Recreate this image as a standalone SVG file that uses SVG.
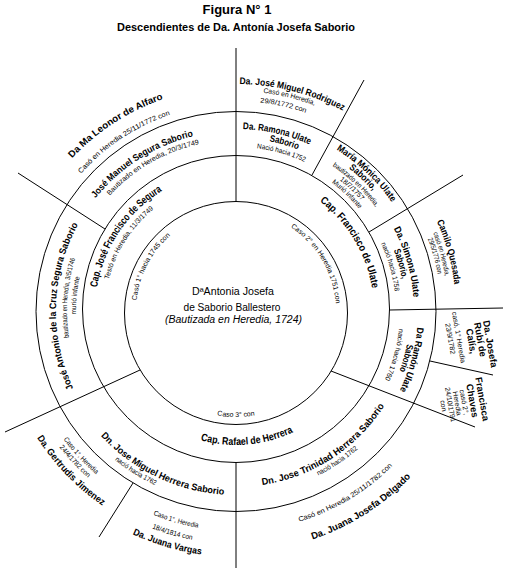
<svg xmlns="http://www.w3.org/2000/svg" width="509" height="573" viewBox="0 0 509 573">
<style>
text{font-family:"Liberation Sans",Arial,sans-serif;fill:#000;text-anchor:middle}
.b{font-weight:bold;font-size:9.5px}
.cap{font-weight:bold;font-size:10.5px}
.s{font-size:7px}
.c{font-size:10px}
.ring{fill:none;stroke:#000;stroke-width:1}
#connectors line{stroke:#000;stroke-width:1}
</style>
<defs>
<path id="w100" d="M136.38,302.28 A100,100 0 0 1 335.62,302.28"/>
<path id="w131" d="M105.50,299.58 A131,131 0 0 1 366.50,299.58"/>
<path id="w138" d="M98.53,298.97 A138,138 0 0 1 373.47,298.97"/>
<path id="w141" d="M95.54,298.71 A141,141 0 0 1 376.46,298.71"/>
<path id="w160" d="M76.61,297.06 A160,160 0 0 1 395.39,297.06"/>
<path id="w164" d="M72.62,296.71 A164,164 0 0 1 399.38,296.71"/>
<path id="w167" d="M69.64,296.44 A167,167 0 0 1 402.36,296.44"/>
<path id="w169" d="M67.64,296.27 A169,169 0 0 1 404.36,296.27"/>
<path id="w171" d="M65.65,296.10 A171,171 0 0 1 406.35,296.10"/>
<path id="w173" d="M63.66,295.92 A173,173 0 0 1 408.34,295.92"/>
<path id="w174" d="M62.66,295.83 A174,174 0 0 1 409.34,295.83"/>
<path id="w178" d="M58.68,295.49 A178,178 0 0 1 413.32,295.49"/>
<path id="w180" d="M56.68,295.31 A180,180 0 0 1 415.32,295.31"/>
<path id="w182" d="M54.69,295.14 A182,182 0 0 1 417.31,295.14"/>
<path id="w190" d="M46.72,294.44 A190,190 0 0 1 425.28,294.44"/>
<path id="w205" d="M31.78,293.13 A205,205 0 0 1 440.22,293.13"/>
<path id="w207" d="M29.79,292.96 A207,207 0 0 1 442.21,292.96"/>
<path id="w210" d="M26.80,292.70 A210,210 0 0 1 445.20,292.70"/>
<path id="w212" d="M24.81,292.52 A212,212 0 0 1 447.19,292.52"/>
<path id="w220" d="M16.84,291.83 A220,220 0 0 1 455.16,291.83"/>
<path id="w224" d="M12.85,291.48 A224,224 0 0 1 459.15,291.48"/>
<path id="w227" d="M9.86,291.22 A227,227 0 0 1 462.14,291.22"/>
<path id="u106" d="M130.40,320.24 A106,106 0 0 0 341.60,320.24"/>
<path id="u134" d="M102.51,322.68 A134,134 0 0 0 369.49,322.68"/>
<path id="u176" d="M60.67,326.34 A176,176 0 0 0 411.33,326.34"/>
<path id="u184" d="M52.70,327.04 A184,184 0 0 0 419.30,327.04"/>
<path id="u192" d="M44.73,327.73 A192,192 0 0 0 427.27,327.73"/>
<path id="u215" d="M21.82,329.74 A215,215 0 0 0 450.18,329.74"/>
<path id="u220" d="M16.84,330.17 A220,220 0 0 0 455.16,330.17"/>
<path id="u223" d="M13.85,330.44 A223,223 0 0 0 458.15,330.44"/>
<path id="u233" d="M3.89,331.31 A233,233 0 0 0 468.11,331.31"/>
<path id="u236" d="M0.90,331.57 A236,236 0 0 0 471.10,331.57"/>
<path id="u241" d="M-4.08,332.00 A241,241 0 0 0 476.08,332.00"/>
<path id="u246" d="M-9.06,332.44 A246,246 0 0 0 481.06,332.44"/>
</defs>
<rect width="509" height="573" fill="#fff"/>

<g id="title">
<text x="237" y="13.5" font-weight="bold" font-size="13">Figura N° 1</text>
<text x="236" y="30.5" font-weight="bold" font-size="10" textLength="238" lengthAdjust="spacingAndGlyphs">Descendientes de Da. Antonía Josefa Saborio</text>
</g>

<g id="rings">
<circle class="ring" cx="236" cy="311.5" r="200"/>
<circle class="ring" cx="236" cy="309" r="153.5"/>
<circle class="ring" cx="236" cy="313" r="111.5"/>
</g>

<g id="connectors">
<line x1="236" y1="48" x2="236" y2="201.5"/>
<line x1="18" y1="173" x2="105" y2="229"/>
<line x1="364" y1="80" x2="312" y2="175"/>
<line x1="463" y1="175" x2="369" y2="232"/>
<line x1="389.5" y1="310" x2="503" y2="308"/>
<line x1="430" y1="361" x2="493" y2="375"/>
<line x1="331" y1="371" x2="475" y2="427"/>
<line x1="140" y1="370" x2="5" y2="432"/>
<line x1="133" y1="483" x2="99" y2="537"/>
<line x1="236" y1="462.5" x2="236" y2="568"/>
</g>

<g id="n-antonia">
<text class="c" x="233" y="294.5" textLength="82" lengthAdjust="spacingAndGlyphs">DªAntonia Josefa</text>
<text class="c" x="232" y="311" textLength="97" lengthAdjust="spacingAndGlyphs">de Saborio Ballestero</text>
<text class="c" x="233.5" y="322.5" font-style="italic" textLength="137" lengthAdjust="spacingAndGlyphs">(Bautizada en Heredia, 1724)</text>
</g>

<g id="n-segura">
<text class="s" transform="rotate(-62.5 236 311)"><textPath href="#w100" startOffset="50%" textLength="75" lengthAdjust="spacingAndGlyphs">Casó 1° hacia 1745 con</textPath></text>
<text class="cap" transform="rotate(-56 236 311)"><textPath href="#w141" startOffset="50%" textLength="120" lengthAdjust="spacingAndGlyphs">Cap. José Francisco de Segura</textPath></text>
<text class="s" transform="rotate(-57.5 236 311)"><textPath href="#w131" startOffset="50%" textLength="85" lengthAdjust="spacingAndGlyphs">Testó en Heredia, 11/3/1749</textPath></text>
</g>

<g id="n-ulate">
<text class="s" transform="rotate(59.5 236 311)"><textPath href="#w100" startOffset="50%" textLength="92" lengthAdjust="spacingAndGlyphs">Caso 2° en Heredia 1751 con</textPath></text>
<text class="cap" transform="rotate(59 236 311)"><textPath href="#w138" startOffset="50%" textLength="104" lengthAdjust="spacingAndGlyphs">Cap. Francisco de Ulate</textPath></text>
</g>

<g id="n-herrera">
<text class="s" transform="rotate(0 236 311)"><textPath href="#u106" startOffset="50%" textLength="38" lengthAdjust="spacingAndGlyphs">Caso 3° con</textPath></text>
<text class="cap" transform="rotate(-5 236 311)"><textPath href="#u134" startOffset="50%" textLength="95" lengthAdjust="spacingAndGlyphs">Cap.  Rafael de Herrera</textPath></text>
</g>

<g id="n-jose-antonio">
<text class="b" transform="rotate(-88.35 236 311)"><textPath href="#w180" startOffset="50%" textLength="170" lengthAdjust="spacingAndGlyphs">José Antonio de la Cruz Segura Saborio</textPath></text>
<text class="s" transform="rotate(-85.5 236 311)"><textPath href="#w169" startOffset="50%" textLength="80" lengthAdjust="spacingAndGlyphs">bautizado en Heredia, 3/5/1746</textPath></text>
<text class="s" transform="rotate(-84.5 236 311)"><textPath href="#w160" startOffset="50%" textLength="38" lengthAdjust="spacingAndGlyphs">murió infante</textPath></text>
</g>

<g id="n-jose-manuel">
<text class="b" transform="rotate(-32.5 236 311)"><textPath href="#w180" startOffset="50%" textLength="118" lengthAdjust="spacingAndGlyphs">José Manuel Segura Saborio</textPath></text>
<text class="s" transform="rotate(-30 236 311)"><textPath href="#w171" startOffset="50%" textLength="105" lengthAdjust="spacingAndGlyphs">Bautizado en Heredia, 20/3/1749</textPath></text>
</g>

<g id="n-leonor">
<text class="s" transform="rotate(-33.5 236 311)"><textPath href="#w207" startOffset="50%" textLength="108" lengthAdjust="spacingAndGlyphs">Casó en Heredia 25/11/1772 con</textPath></text>
<text class="b" transform="rotate(-33 236 311)"><textPath href="#w224" startOffset="50%" textLength="110" lengthAdjust="spacingAndGlyphs">Da Ma  Leonor de Alfaro</textPath></text>
</g>

<g id="n-ramona">
<text class="b" transform="rotate(13 236 311)"><textPath href="#w182" startOffset="50%" textLength="69" lengthAdjust="spacingAndGlyphs">Da. Ramona Ulate</textPath></text>
<text class="b" transform="rotate(16 236 311)"><textPath href="#w173" startOffset="50%" textLength="30" lengthAdjust="spacingAndGlyphs">Saborio</textPath></text>
<text class="s" transform="rotate(16 236 311)"><textPath href="#w164" startOffset="50%" textLength="50" lengthAdjust="spacingAndGlyphs">Nació hacia 1752</textPath></text>
</g>

<g id="n-rodriguez">
<text class="b" transform="rotate(14.5 236 311)"><textPath href="#w227" startOffset="50%" textLength="108" lengthAdjust="spacingAndGlyphs">Da.  José Miguel Rodriguez</textPath></text>
<text class="s" transform="rotate(14 236 311)"><textPath href="#w220" startOffset="50%" textLength="53" lengthAdjust="spacingAndGlyphs">Casó en Heredia,</textPath></text>
<text class="s" transform="rotate(13 236 311)"><textPath href="#w210" startOffset="50%" textLength="47" lengthAdjust="spacingAndGlyphs">29/8/1772 con</textPath></text>
</g>

<g id="n-monica">
<text class="b" transform="rotate(43.5 236 311)"><textPath href="#w190" startOffset="50%" textLength="77" lengthAdjust="spacingAndGlyphs">María Mónica Ulate</textPath></text>
<text class="b" transform="rotate(43.5 236 311)"><textPath href="#w182" startOffset="50%" textLength="33" lengthAdjust="spacingAndGlyphs">Saborio,</textPath></text>
<text class="s" transform="rotate(43.5 236 311)"><textPath href="#w174" startOffset="50%" textLength="60" lengthAdjust="spacingAndGlyphs">bautizado en Heredia,</textPath></text>
<text class="s" transform="rotate(43.5 236 311)"><textPath href="#w167" startOffset="50%" textLength="30" lengthAdjust="spacingAndGlyphs">18/7/1757</textPath></text>
<text class="s" transform="rotate(43.5 236 311)"><textPath href="#w160" startOffset="50%" textLength="38" lengthAdjust="spacingAndGlyphs">Murió infante</textPath></text>
</g>

<g id="n-camilo">
<text class="b" transform="rotate(74.5 236 311)"><textPath href="#w220" startOffset="50%" textLength="66" lengthAdjust="spacingAndGlyphs">Camilo Quesada</textPath></text>
<text class="s" transform="rotate(74.5 236 311)"><textPath href="#w212" startOffset="50%" textLength="45" lengthAdjust="spacingAndGlyphs">casó en Heredia,</textPath></text>
<text class="s" transform="rotate(74.5 236 311)"><textPath href="#w205" startOffset="50%" textLength="37" lengthAdjust="spacingAndGlyphs">29/5/1776 con</textPath></text>
</g>

<g id="n-simona">
<text class="b" transform="rotate(74 236 311)"><textPath href="#w178" startOffset="50%" textLength="72" lengthAdjust="spacingAndGlyphs">Da.  Simona Ulate</textPath></text>
<text class="b" transform="rotate(74 236 311)"><textPath href="#w169" startOffset="50%" textLength="30" lengthAdjust="spacingAndGlyphs">Saborio,</textPath></text>
<text class="s" transform="rotate(74 236 311)"><textPath href="#w160" startOffset="50%" textLength="50" lengthAdjust="spacingAndGlyphs">nació hacia 1758</textPath></text>
</g>

<g id="n-josefa" transform="translate(490 344) rotate(80)">
<text class="b" x="0" y="3">Da. Josefa</text>
<text class="b" x="-6" y="12">Rubí de</text>
<text class="b" x="-6" y="21">Calís,</text>
<text class="s" x="-12" y="32">casó, 1° Heredia</text>
<text class="s" x="-12" y="40.5">23/9/1782</text>
</g>

<g id="n-ramon">
<text class="b" transform="rotate(105.5 236 311)"><textPath href="#w182" startOffset="50%" textLength="66" lengthAdjust="spacingAndGlyphs">Da  Ramón Ulate</textPath></text>
<text class="b" transform="rotate(105.5 236 311)"><textPath href="#w174" startOffset="50%" textLength="28" lengthAdjust="spacingAndGlyphs">Saborio</textPath></text>
<text class="s" transform="rotate(105.5 236 311)"><textPath href="#w164" startOffset="50%" textLength="53" lengthAdjust="spacingAndGlyphs">nació hacia 1760</textPath></text>
</g>

<g id="n-francisca" transform="translate(482 399) rotate(80)">
<text class="b" x="0" y="3">Francisca</text>
<text class="b" x="0" y="13">Chaves</text>
<text class="s" x="0" y="20.5">casó 2°,</text>
<text class="s" x="0" y="27.5">Heredia</text>
<text class="s" x="0" y="34.5">24/10/1791</text>
<text class="s" x="0" y="41.5">con</text>
</g>

<g id="n-trinidad">
<text class="b" transform="rotate(-33 236 311)"><textPath href="#u176" startOffset="50%" textLength="150" lengthAdjust="spacingAndGlyphs">Dn.  Jose Trinidad Herrera Saborio</textPath></text>
<text class="s" transform="rotate(-34 236 311)"><textPath href="#u184" startOffset="50%" textLength="48" lengthAdjust="spacingAndGlyphs">nació hacia 1762</textPath></text>
</g>

<g id="n-delgado">
<text class="s" transform="rotate(-31 236 311)"><textPath href="#u220" startOffset="50%" textLength="110" lengthAdjust="spacingAndGlyphs">Casó en Heredia 25/11/1782 con</textPath></text>
<text class="b" transform="rotate(-32.5 236 311)"><textPath href="#u241" startOffset="50%" textLength="118" lengthAdjust="spacingAndGlyphs">Da. Juana Josefa Delgado</textPath></text>
</g>

<g id="n-jose-miguel">
<text class="b" transform="rotate(25.5 236 311)"><textPath href="#u184" startOffset="50%" textLength="140" lengthAdjust="spacingAndGlyphs">Dn. Jose Miguel Herrera Saborio</textPath></text>
<text class="s" transform="rotate(32 236 311)"><textPath href="#u192" startOffset="50%" textLength="48" lengthAdjust="spacingAndGlyphs">nació hacia 1762</textPath></text>
</g>

<g id="n-vargas">
<text class="s" transform="rotate(16 236 311)"><textPath href="#u220" startOffset="50%" textLength="47" lengthAdjust="spacingAndGlyphs">Caso 1°, Heredia</textPath></text>
<text class="s" transform="rotate(16 236 311)"><textPath href="#u233" startOffset="50%" textLength="42" lengthAdjust="spacingAndGlyphs">18/4/1814 con</textPath></text>
<text class="b" transform="rotate(16.5 236 311)"><textPath href="#u246" startOffset="50%" textLength="72" lengthAdjust="spacingAndGlyphs">Da. Juana Vargas</textPath></text>
</g>

<g id="n-gertrudis">
<text class="s" transform="rotate(47 236 311)"><textPath href="#u215" startOffset="50%" textLength="48" lengthAdjust="spacingAndGlyphs">Caso 1°, Heredia</textPath></text>
<text class="s" transform="rotate(47 236 311)"><textPath href="#u223" startOffset="50%" textLength="42" lengthAdjust="spacingAndGlyphs">24/4/1782 con</textPath></text>
<text class="b" transform="rotate(46 236 311)"><textPath href="#u236" startOffset="50%" textLength="95" lengthAdjust="spacingAndGlyphs">Da. Gertrudis Jimenez</textPath></text>
</g>
</svg>
